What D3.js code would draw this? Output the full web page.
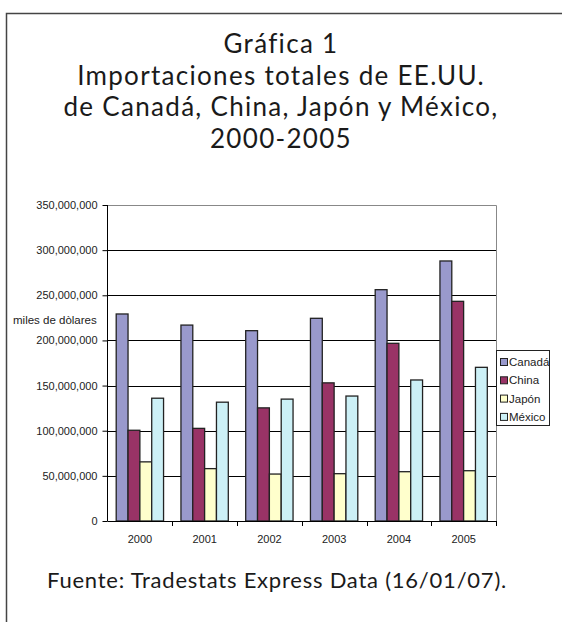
<!DOCTYPE html>
<html>
<head>
<meta charset="utf-8">
<script src="https://cdn.jsdelivr.net/npm/d3@7"></script>
<style>
body { margin: 0; background: #fff; }
</style>
</head>
<body>
<svg width="562" height="622"></svg>
<script>
var years = ["2000", "2001", "2002", "2003", "2004", "2005"];
var series = ["Canadá", "China", "Japón", "México"];
var canada = [229300000, 217000000, 210800000, 224500000, 256200000, 288000000];
var china = [100500000, 102600000, 125300000, 153000000, 196800000, 243300000];
var japon = [65500000, 58000000, 52000000, 52400000, 54600000, 55700000];
var mexico = [136000000, 131600000, 135000000, 138400000, 156200000, 170200000];
var yTicks = [0, 50000000, 100000000, 150000000, 200000000, 250000000, 300000000, 350000000];
var colors = ["#9999cc", "#993366", "#ffffcc", "#ccf0f6"];
var titleLines = ["Gráfica 1", "Importaciones totales de EE.UU.", "de Canadá, China, Japón y México,", "2000-2005"];

var values = [canada, china, japon, mexico];

var svg = d3.select("svg");

// outer frame
svg.append("path")
   .attr("d", "M6.5,622 L6.5,13.5 L562,13.5")
   .attr("fill", "none")
   .attr("stroke", "#444")
   .attr("stroke-width", 1.5);

var titleFont = "Lato, 'Open Sans', sans-serif";

var title = svg.selectAll(".title")
   .data(titleLines)
   .enter()
   .append("text")
   .attr("x", 281)
   .attr("y", function(d, i){ return 53 + i * 31.5; })
   .attr("text-anchor", "middle")
   .style("font-family", titleFont)
   .style("font-weight", 400)
   .style("font-size", "26px")
   .attr("fill", "#1a1a1a")
   .text(function(d){ return d; });

// spread letters so the widest line is as wide as in the original
var t3 = title.nodes()[2];
var spacing = (435 - t3.getComputedTextLength()) / titleLines[2].length;
title.style("letter-spacing", spacing + "px");

var x0 = d3.scaleBand()
   .domain(years)
   .range([107.5, 496]);

var x1 = d3.scaleBand()
   .domain(series)
   .range([8.7, x0.bandwidth() - 8.7]);

var y = d3.scaleLinear()
   .domain([0, 350000000])
   .range([521, 205]);

var g = svg.append("g");

// gridlines
g.selectAll(".grid")
   .data(yTicks.slice(1, -1))
   .enter()
   .append("line")
   .attr("x1", 107.5)
   .attr("x2", 496)
   .attr("y1", function(d){ return Math.round(y(d)) + 0.5; })
   .attr("y2", function(d){ return Math.round(y(d)) + 0.5; })
   .attr("stroke", "#000")
   .attr("stroke-width", 1);

// plot border top and right
g.append("path")
   .attr("d", "M107.5," + (y(350000000) + 0.5) + " L496.5," + (y(350000000) + 0.5) + " L496.5,521")
   .attr("fill", "none")
   .attr("stroke", "#888")
   .attr("stroke-width", 1);

var groups = g.selectAll(".year")
   .data(years)
   .enter()
   .append("g")
   .attr("transform", function(d){ return "translate(" + x0(d) + ",0)"; });

groups.selectAll("rect")
   .data(function(d, i){
      return series.map(function(s, j){ return {s: s, v: values[j][i], c: colors[j]}; });
   })
   .enter()
   .append("rect")
   .attr("x", function(d){ return x1(d.s); })
   .attr("y", function(d){ return y(d.v); })
   .attr("width", x1.bandwidth())
   .attr("height", function(d){ return y(0) - y(d.v); })
   .attr("fill", function(d){ return d.c; })
   .attr("stroke", "#222")
   .attr("stroke-width", 1.3);

// axes
var yAxis = d3.axisLeft(y)
   .tickValues(yTicks)
   .tickSize(5)
   .tickFormat(d3.format(","));

g.append("g")
   .attr("transform", "translate(107.5,0)")
   .call(yAxis)
   .call(function(a){
      a.select(".domain").attr("stroke", "#000").attr("d", "M0," + y(350000000) + "V" + y(0));
      a.selectAll("line").attr("stroke", "#000");
      a.selectAll("text")
         .attr("x", -10)
         .style("font-family", "'Liberation Sans', Arial, sans-serif")
         .style("font-size", "11px")
         .attr("fill", "#222");
   });

var xAxis = d3.axisBottom(x0)
   .tickSize(0)
   .tickPadding(14);

g.append("g")
   .attr("transform", "translate(0,521.5)")
   .call(xAxis)
   .call(function(a){
      a.select(".domain").attr("stroke", "#000").attr("d", "M107.5,0H496.5");
      a.selectAll("text")
         .style("font-family", "'Liberation Sans', Arial, sans-serif")
         .style("font-size", "11px")
         .attr("fill", "#222");
   });

// category separator ticks
g.selectAll(".sep")
   .data(years)
   .enter()
   .append("line")
   .attr("x1", function(d){ return Math.round(x0(d) + x0.bandwidth()) + 0.5; })
   .attr("x2", function(d){ return Math.round(x0(d) + x0.bandwidth()) + 0.5; })
   .attr("y1", 521)
   .attr("y2", 526)
   .attr("stroke", "#000");

// y axis label
svg.append("text")
   .attr("x", 13)
   .attr("y", 324)
   .style("font-family", "'Liberation Sans', Arial, sans-serif")
   .style("font-size", "11.5px")
   .attr("fill", "#222")
   .text("miles de dòlares");

// legend
var legend = svg.append("g");

legend.append("rect")
   .attr("x", 496.5)
   .attr("y", 350.5)
   .attr("width", 53)
   .attr("height", 75)
   .attr("fill", "#fff")
   .attr("stroke", "#222");

var items = legend.selectAll(".item")
   .data(series)
   .enter()
   .append("g")
   .attr("transform", function(d, i){ return "translate(500," + (362 + i * 18.3) + ")"; });

items.append("rect")
   .attr("x", 0.5)
   .attr("y", -3.5)
   .attr("width", 7)
   .attr("height", 7)
   .attr("fill", function(d, i){ return colors[i]; })
   .attr("stroke", "#222");

items.append("text")
   .attr("x", 9)
   .attr("y", 4)
   .style("font-family", "'Liberation Sans', Arial, sans-serif")
   .style("font-size", "11.5px")
   .attr("fill", "#222")
   .text(function(d){ return d; });

// source
var sourceText = "Fuente: Tradestats Express Data (16/01/07).";
var source = svg.append("text")
   .attr("x", 277)
   .attr("y", 588)
   .attr("text-anchor", "middle")
   .style("font-family", titleFont)
   .style("font-weight", 400)
   .style("font-size", "22px")
   .attr("fill", "#1a1a1a")
   .text(sourceText);

source.style("letter-spacing", ((460 - source.node().getComputedTextLength()) / sourceText.length) + "px");
</script>
</body>
</html>
